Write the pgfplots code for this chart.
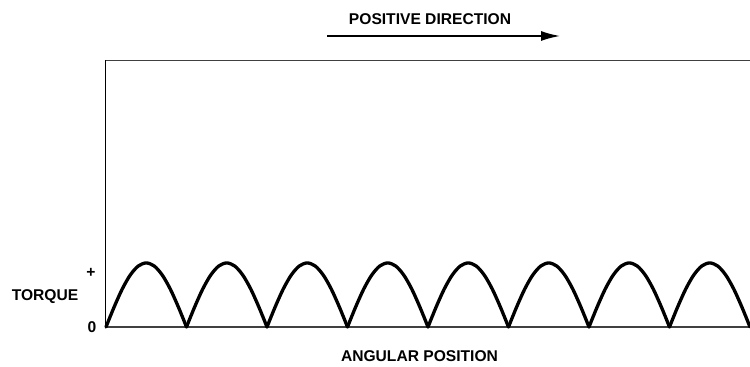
\documentclass[border=0pt]{standalone}
\usepackage{pgfplots}
\pgfplotsset{compat=1.18}
\usetikzlibrary{arrows.meta}
\usepackage{fontspec}
\setmainfont{Liberation Sans}
\begin{document}
\begin{tikzpicture}[every node/.style={font=\fontsize{7.8}{9}\selectfont\bfseries}]
% fixed page frame around the axis box
\useasboundingbox (-53pt,-20pt) rectangle (322pt,163.5pt);
\begin{axis}[
  scale only axis,
  width=322pt, height=133.25pt,
  xmin=0, xmax=8, ymin=0, ymax=4.16,
  separate axis lines,
  axis x line=box,
  axis y line=left,
  x axis line style={-, line width=0.6pt, black!75},
  y axis line style={-, line width=0.5pt, black},
  xtick=\empty, ytick=\empty,
  clip=false,
]
\pgfplotsset{hump/.style={black, line width=1.65pt, smooth, line join=round, line cap=round, mark=none}}
\addplot[hump] coordinates {(0,0) (0.1,0.309) (0.2,0.588) (0.3,0.809) (0.4,0.951) (0.5,1) (0.6,0.951) (0.7,0.809) (0.8,0.588) (0.9,0.309) (1,0)};
\addplot[hump] coordinates {(1,0) (1.1,0.309) (1.2,0.588) (1.3,0.809) (1.4,0.951) (1.5,1) (1.6,0.951) (1.7,0.809) (1.8,0.588) (1.9,0.309) (2,0)};
\addplot[hump] coordinates {(2,0) (2.1,0.309) (2.2,0.588) (2.3,0.809) (2.4,0.951) (2.5,1) (2.6,0.951) (2.7,0.809) (2.8,0.588) (2.9,0.309) (3,0)};
\addplot[hump] coordinates {(3,0) (3.1,0.309) (3.2,0.588) (3.3,0.809) (3.4,0.951) (3.5,1) (3.6,0.951) (3.7,0.809) (3.8,0.588) (3.9,0.309) (4,0)};
\addplot[hump] coordinates {(4,0) (4.1,0.309) (4.2,0.588) (4.3,0.809) (4.4,0.951) (4.5,1) (4.6,0.951) (4.7,0.809) (4.8,0.588) (4.9,0.309) (5,0)};
\addplot[hump] coordinates {(5,0) (5.1,0.309) (5.2,0.588) (5.3,0.809) (5.4,0.951) (5.5,1) (5.6,0.951) (5.7,0.809) (5.8,0.588) (5.9,0.309) (6,0)};
\addplot[hump] coordinates {(6,0) (6.1,0.309) (6.2,0.588) (6.3,0.809) (6.4,0.951) (6.5,1) (6.6,0.951) (6.7,0.809) (6.8,0.588) (6.9,0.309) (7,0)};
\addplot[hump] coordinates {(7,0) (7.1,0.309) (7.2,0.588) (7.3,0.809) (7.4,0.951) (7.5,1) (7.6,0.951) (7.7,0.809) (7.8,0.588) (7.9,0.309) (8,0)};
\end{axis}
% labels
\node at (162pt,154pt) {POSITIVE DIRECTION};
\draw[line width=0.75pt, -{Latex[length=9.5pt, width=5pt]}] (110.5pt,145.5pt) -- (227pt,145.5pt);
\node at (156.75pt,-14.5pt) {ANGULAR POSITION};
\node at (-30.5pt,15pt) {TORQUE};
\node at (-7.5pt,27pt) {+};
\node at (-7pt,0pt) {0};
\end{tikzpicture}
\end{document}
